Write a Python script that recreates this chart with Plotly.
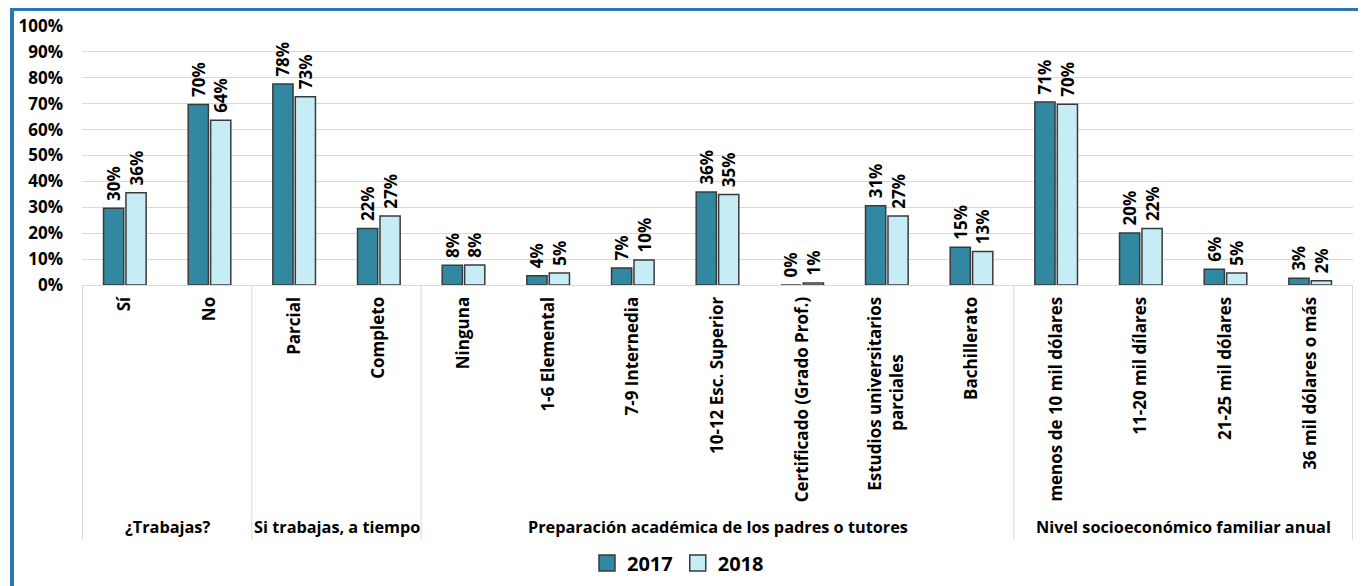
import plotly.graph_objects as go

# Datos de la gráfica
grupos = ["¿Trabajas?", "Si trabajas, a tiempo",
          "Preparación académica de los padres o tutores",
          "Nivel socioeconómico familiar anual"]
n_por_grupo = [2, 2, 7, 4]

categorias = ["Sí", "No", "Parcial", "Completo", "Ninguna", "1-6 Elemental",
              "7-9 Internedia", "10-12 Esc. Superior", "Certificado (Grado Prof.)",
              "Estudios universitarios<br>parciales", "Bachillerato",
              "menos de 10 mil dólares", "11-20 mil dílares", "21-25 mil dólares",
              "36 mil dólares o más"]

v2017 = [29.6, 69.7, 77.6, 21.8, 7.6, 3.6, 6.6, 35.9, 0, 30.6, 14.6, 70.7, 20.1, 6.1, 2.6]
v2018 = [35.6, 63.6, 72.7, 26.6, 7.7, 4.6, 9.7, 34.9, 0.8, 26.6, 12.9, 69.8, 21.8, 4.6, 1.6]

series = {'2017': (v2017, '#3288A0'), '2018': (v2018, '#C6ECF5')}
borde = '#3A3A3A'

font = "Open Sans"
# la página tiene 8px de margen en el body
off = 8
W, H = 1366 - off, 586 - off
ml, mr, mt, mb = 82 - off, 1366 - 1353, 26 - off, 586 - 285

pw, ph = W - ml - mr, H - mt - mb

# posiciones en pixeles de pantalla -> coordenadas paper
def px_x(v):
    return (v - off - ml) / pw

def px_y(v):
    return (H - mb - (v - off)) / ph

fig = go.Figure()
for nombre, (vals, color) in series.items():
    fig.add_trace(go.Bar(
        name=nombre,
        x=categorias,
        y=vals,
        marker=dict(color=color, line=dict(color=borde, width=1.5)),
        texttemplate='\u00a0%{y:.0f}%',  # espacio para separar del borde de la barra
        textposition='outside',
        textangle=-90,
        constraintext='none',
        cliponaxis=False,
        textfont=dict(family=font, size=17, color='black', weight='bold'),
        showlegend=False,
    ))

# leyenda con cuadros más grandes
for nombre, (vals, color) in series.items():
    fig.add_trace(go.Scatter(
        name=nombre, x=[None], y=[None], mode='markers',
        marker=dict(symbol='square', size=16, color=color,
                    line=dict(color=borde, width=1.5)),
    ))

# separadores y etiquetas de grupo debajo del eje
lineas = dict(color='#D9D9D9', width=1)
inicio = -0.5
fig.add_shape(type='line', xref='x', yref='paper', x0=inicio, x1=inicio,
              y0=0, y1=px_y(540), line=lineas)
for g, n in zip(grupos, n_por_grupo):
    fin = inicio + n
    fig.add_shape(type='line', xref='x', yref='paper', x0=fin, x1=fin,
                  y0=0, y1=px_y(540), line=lineas)
    fig.add_annotation(x=(inicio + fin) / 2, xref='x', y=px_y(527), yref='paper',
                       text=g, showarrow=False, yanchor='middle',
                       font=dict(family=font, size=16.3, color='black', weight='bold'))
    inicio = fin

# marco azul alrededor del gráfico
fig.add_shape(type='rect', xref='paper', yref='paper',
              x0=px_x(12), x1=px_x(1360), y0=px_y(9), y1=px_y(640),
              line=dict(color='#2E75B6', width=4), fillcolor='rgba(0,0,0,0)')

# texto de los ticks: la segunda línea se centra respecto a la primera
etiquetas = [c.replace('<br>parciales', '<br>parciales' + '\u00a0' * 13) for c in categorias]

fig.update_layout(
    width=W, height=H,
    margin=dict(l=ml, r=mr, t=mt, b=mb, autoexpand=False),
    plot_bgcolor='white',
    paper_bgcolor='white',
    barmode='group',
    bargap=0.47,
    bargroupgap=0.1,
    font=dict(family=font, color='black'),
    legend=dict(orientation='h', x=px_x(678), xanchor='center',
                y=px_y(563), yanchor='middle',
                font=dict(family=font, size=20, weight='bold'),
                itemwidth=30),
)

fig.update_yaxes(range=[0, 100], dtick=10, ticksuffix='%',
                 gridcolor='#D9D9D9', gridwidth=1, zeroline=False,
                 tickfont=dict(family=font, size=17, weight='bold'),
                 ticklabelstandoff=18, showline=False, automargin=False)

fig.update_xaxes(type='category', tickangle=-90,
                 tickvals=categorias, ticktext=etiquetas,
                 tickfont=dict(family=font, size=17, weight='bold'),
                 showline=True, linecolor='#D9D9D9', linewidth=1,
                 ticklabelstandoff=4, automargin=False)

fig.write_html("out.html")
